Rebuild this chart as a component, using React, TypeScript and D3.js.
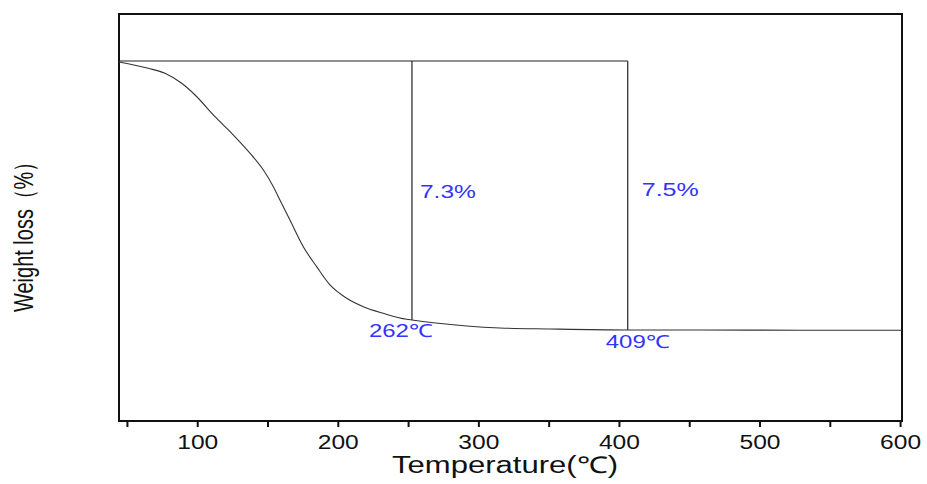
import React from "react";
import * as d3 from "d3";

// ── Data ──────────────────────────────────────────────────────────────────────

const temps = [
  44, 64.8, 76.7, 88.6, 98.1, 112.3, 124.2, 138.4, 146.7, 153.8, 157.3,
  165.6, 175.1, 184.6, 194.1, 206.0, 217.8, 232.0, 248.7, 252.4, 267.6, 291.4,
  315.0, 350.6, 405.9, 457.7, 528.5, 601,
];
const weights = [
  99.83, 98.78, 97.95, 96.28, 94.33, 90.72, 87.95, 84.3, 81.83, 79.05,
  77.38, 73.5, 69.05, 65.72, 62.67, 60.45, 59.05, 57.95, 56.95, 56.83, 56.38,
  55.83, 55.5, 55.33, 55.17, 55.17, 55.12, 55.12,
];

const xTicks = [50, 100, 150, 200, 250, 300, 350, 400, 450, 500, 550, 600];
const xTickLabels = ["100", "200", "300", "400", "500", "600"];

const refWeight = 100;
const markerTemps = [252.4, 405.9];
const markerLabels = ["262℃", "409℃"];
const stepLabels = ["7.3%", "7.5%"];

// ── Layout ────────────────────────────────────────────────────────────────────

const W = 927;
const H = 484;
const PLOT = { left: 119, right: 902, top: 14, bottom: 421 };
const FONT = "'Liberation Sans', Arial, sans-serif";
const BLUE = "#3333ff";

export default function App() {
  const x = d3.scaleLinear().domain([44, 601]).range([PLOT.left, PLOT.right]);
  const y = d3.scaleLinear().domain([40, 107.83]).range([PLOT.bottom, PLOT.top]);

  const points = temps.map((t, i) => [t, weights[i]] as [number, number]);
  const line = d3
    .line<[number, number]>()
    .x((d) => x(d[0]))
    .y((d) => y(d[1]))
    .curve(d3.curveMonotoneX);

  // weight on the curve at a given temperature
  const weightAt = (t: number) => {
    const i = d3.bisector((d: number) => d).left(temps, t);
    if (i <= 0) return weights[0];
    if (i >= temps.length) return weights[weights.length - 1];
    const f = (t - temps[i - 1]) / (temps[i] - temps[i - 1]);
    return weights[i - 1] + f * (weights[i] - weights[i - 1]);
  };

  // label offsets (px) relative to each marker line
  const stepOffset = [{ dx: 8, y: 198, len: 56 }, { dx: 14, y: 196, len: 57 }];
  const markerOffset = [{ dx: -43, y: 337, len: 64 }, { dx: -22, y: 348, len: 64 }];

  return (
    <svg
      width={W}
      height={H}
      style={{ position: "fixed", left: 0, top: 0, background: "#fff" }}
      fontFamily={FONT}
    >
      {/* frame */}
      <path
        d={`M${PLOT.left},${PLOT.bottom}V${PLOT.top}H${PLOT.right}V${PLOT.bottom}Z`}
        fill="none"
        stroke="#111"
        strokeWidth={2}
      />

      {/* x ticks */}
      {xTicks.map((t) => (
        <line
          key={t}
          x1={x(t)}
          x2={x(t)}
          y1={PLOT.bottom}
          y2={PLOT.bottom + 6}
          stroke="#111"
          strokeWidth={2}
        />
      ))}
      {xTickLabels.map((lab) => (
        <text
          key={lab}
          x={x(+lab)}
          y={449}
          textAnchor="middle"
          fontSize={19.5}
          textLength={41}
          lengthAdjust="spacingAndGlyphs"
          fill="#111"
        >
          {lab}
        </text>
      ))}

      {/* axis titles */}
      <text
        x={505}
        y={473}
        textAnchor="middle"
        fontSize={23}
        textLength={226}
        lengthAdjust="spacingAndGlyphs"
        fill="#111"
      >
        Temperature(℃)
      </text>
      <text
        transform="translate(33,232) rotate(-90) scale(1,1.3)"
        textAnchor="middle"
        fontSize={21}
        textLength={160}
        lengthAdjust="spacingAndGlyphs"
        fill="#111"
      >
        Weight loss（%）
      </text>

      {/* reference lines */}
      <line
        x1={x(temps[0])}
        x2={x(markerTemps[markerTemps.length - 1])}
        y1={y(refWeight)}
        y2={y(refWeight)}
        stroke="#222"
        strokeWidth={1.2}
      />
      {markerTemps.map((t) => (
        <line
          key={t}
          x1={x(t)}
          x2={x(t)}
          y1={y(refWeight)}
          y2={y(weightAt(t))}
          stroke="#222"
          strokeWidth={1.2}
        />
      ))}

      {/* curve */}
      <path d={line(points) ?? ""} fill="none" stroke="#333" strokeWidth={1.1} />

      {/* annotations */}
      {markerTemps.map((t, i) => (
        <g key={`lab${t}`} fill={BLUE}>
          <text
            x={x(t) + stepOffset[i].dx}
            y={stepOffset[i].y}
            fontSize={18}
            textLength={stepOffset[i].len}
            lengthAdjust="spacingAndGlyphs"
          >
            {stepLabels[i]}
          </text>
          <text
            x={x(t) + markerOffset[i].dx}
            y={markerOffset[i].y}
            fontSize={18}
            textLength={markerOffset[i].len}
            lengthAdjust="spacingAndGlyphs"
          >
            {markerLabels[i]}
          </text>
        </g>
      ))}
    </svg>
  );
}
